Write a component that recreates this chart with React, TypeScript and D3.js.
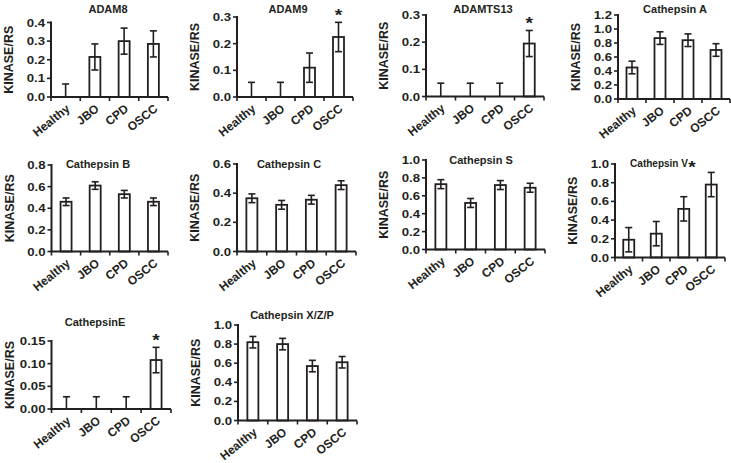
import * as d3 from 'd3'

const categories = ['Healthy', 'JBO', 'CPD', 'OSCC']

const titles = ['ADAM8', 'ADAM9', 'ADAMTS13', 'Cathepsin A', 'Cathepsin B', 'Cathepsin C', 'Cathepsin S', 'Cathepsin V', 'CathepsinE', 'Cathepsin X/Z/P']

const means = [
    [0, 0.215, 0.30, 0.285],
    [0, 0, 0.11, 0.225],
    [0, 0, 0, 0.195],
    [0.45, 0.87, 0.84, 0.70],
    [0.46, 0.61, 0.53, 0.46],
    [0.365, 0.32, 0.355, 0.455],
    [0.73, 0.52, 0.72, 0.69],
    [0.19, 0.255, 0.52, 0.78],
    [0, 0, 0, 0.108],
    [0.82, 0.80, 0.57, 0.61]
]

const errors = [
    [0.07, 0.07, 0.07, 0.07],
    [0.055, 0.055, 0.055, 0.055],
    [0.049, 0.049, 0.049, 0.048],
    [0.09, 0.09, 0.09, 0.09],
    [0.035, 0.035, 0.035, 0.035],
    [0.03, 0.03, 0.03, 0.03],
    [0.05, 0.05, 0.05, 0.05],
    [0.13, 0.13, 0.13, 0.13],
    [0.027, 0.027, 0.027, 0.028],
    [0.06, 0.06, 0.06, 0.06]
]

const yMax = [0.4, 0.3, 0.3, 1.2, 0.8, 0.6, 1.0, 1.0, 0.15, 1.0]
const yStep = [0.1, 0.1, 0.1, 0.2, 0.2, 0.2, 0.2, 0.2, 0.05, 0.2]
const yDecimals = [1, 1, 1, 1, 1, 1, 1, 1, 2, 1]
// significant group (OSCC) marked with a star
const starred = [false, true, true, false, false, false, false, true, true, false]

// panel placement in page pixels: y-axis x, zero y, top y, axis end x, title centre
const layout = [
    { x0: 51, y0: 97, yTop: 22.5, x1: 168, tx: 108, ty: 13, tf: 11 },
    { x0: 237, y0: 97, yTop: 17, x1: 353, tx: 288, ty: 13, tf: 11 },
    { x0: 426, y0: 96.5, yTop: 15, x1: 544, tx: 483, ty: 13, tf: 11 },
    { x0: 618, y0: 99, yTop: 15, x1: 730, tx: 675, ty: 13, tf: 11 },
    { x0: 51.5, y0: 251.5, yTop: 165, x1: 168, tx: 98, ty: 168, tf: 11 },
    { x0: 237, y0: 251.5, yTop: 164, x1: 356, tx: 289, ty: 168, tf: 11 },
    { x0: 426, y0: 249.5, yTop: 160, x1: 545, tx: 481, ty: 164, tf: 11 },
    { x0: 615, y0: 257.5, yTop: 164, x1: 725, tx: 659, ty: 167, tf: 10, sx: 692, sy: 173 },
    { x0: 51.5, y0: 409, yTop: 341, x1: 171, tx: 95, ty: 326, tf: 11 },
    { x0: 238, y0: 420.5, yTop: 325, x1: 357, tx: 292, ty: 319, tf: 11 }
]

const ink = '#231f20'
const font = '"Liberation Sans", Arial, sans-serif'
const stretch = 1.2

function Panel({ i }: { i: number }) {
    const L = layout[i]
    const x = d3.scaleBand().domain(categories).range([L.x0, L.x1])
    const y = d3.scaleLinear().domain([0, yMax[i]]).range([L.y0, L.yTop])
    const ticks = d3.range(0, yMax[i] + yStep[i] / 2, yStep[i])
    const fmt = d3.format(`.${yDecimals[i]}f`)
    const bw = 11
    const cap = 3.5
    const bounds = d3.range(categories.length + 1).map(k => L.x0 + k * x.bandwidth())
    const oscc = categories.length - 1
    const starX = L.sx ?? (x(categories[oscc])! + x.bandwidth() / 2)
    const starY = L.sy ?? y(means[i][oscc] + errors[i][oscc]) - 1

    return (
        <g>
            <text x={L.tx} y={L.ty} textAnchor="middle"
                fontSize={L.tf} fontWeight="bold" fill={ink}>{titles[i]}</text>
            <text transform={`translate(${L.x0 - 38},${(L.y0 + L.yTop) / 2}) rotate(-90)`} textAnchor="middle"
                fontSize={12.5} fontWeight="bold" fill={ink}>KINASE/RS</text>
            {categories.map((c, k) => {
                const cx = x(c)! + x.bandwidth() / 2
                const m = means[i][k]
                const e = errors[i][k]
                return (
                    <g key={c}>
                        {m > 0 && (
                            <rect x={cx - bw / 2} y={y(m)} width={bw} height={L.y0 - y(m)}
                                fill="white" stroke={ink} strokeWidth={1.8} />
                        )}
                        <line x1={cx} x2={cx} y1={y(m + e)} y2={y(Math.max(0, m - e))} stroke={ink} strokeWidth={1.6} />
                        <line x1={cx - cap} x2={cx + cap} y1={y(m + e)} y2={y(m + e)} stroke={ink} strokeWidth={1.6} />
                        {m - e > 0 && (
                            <line x1={cx - cap} x2={cx + cap} y1={y(m - e)} y2={y(m - e)} stroke={ink} strokeWidth={1.6} />
                        )}
                        <text transform={`translate(${cx + 5},${L.y0 + 13}) rotate(-39)`}
                            textAnchor="end" fontSize={12} fontWeight="bold" fill={ink}>{c}</text>
                    </g>
                )
            })}
            <line x1={L.x0} x2={L.x0} y1={L.yTop - 1} y2={L.y0} stroke={ink} strokeWidth={2} />
            <line x1={L.x0 - 1} x2={L.x1} y1={L.y0} y2={L.y0} stroke={ink} strokeWidth={2} />
            {ticks.map(t => (
                <g key={t}>
                    <line x1={L.x0 - 4} x2={L.x0} y1={y(t)} y2={y(t)} stroke={ink} strokeWidth={1.6} />
                    <text transform={`translate(${L.x0 - 6},${y(t) + 4}) scale(${stretch},1)`} textAnchor="end"
                        fontSize={11} fontWeight="bold" fill={ink}>{fmt(t)}</text>
                </g>
            ))}
            {bounds.map(b => (
                <line key={b} x1={b} x2={b} y1={L.y0} y2={L.y0 + 4} stroke={ink} strokeWidth={1.6} />
            ))}
            {starred[i] && (
                <text transform={`translate(${starX},${starY}) scale(${stretch},1)`} textAnchor="middle"
                    fontSize={16} fontWeight="bold" fill={ink}>*</text>
            )}
        </g>
    )
}

export default function App() {
    return (
        <svg width={731} height={463} style={{ position: 'absolute', left: 0, top: 0, fontFamily: font }}>
            <rect width={731} height={463} fill="white" />
            {titles.map((t, i) => <Panel key={t} i={i} />)}
        </svg>
    )
}
